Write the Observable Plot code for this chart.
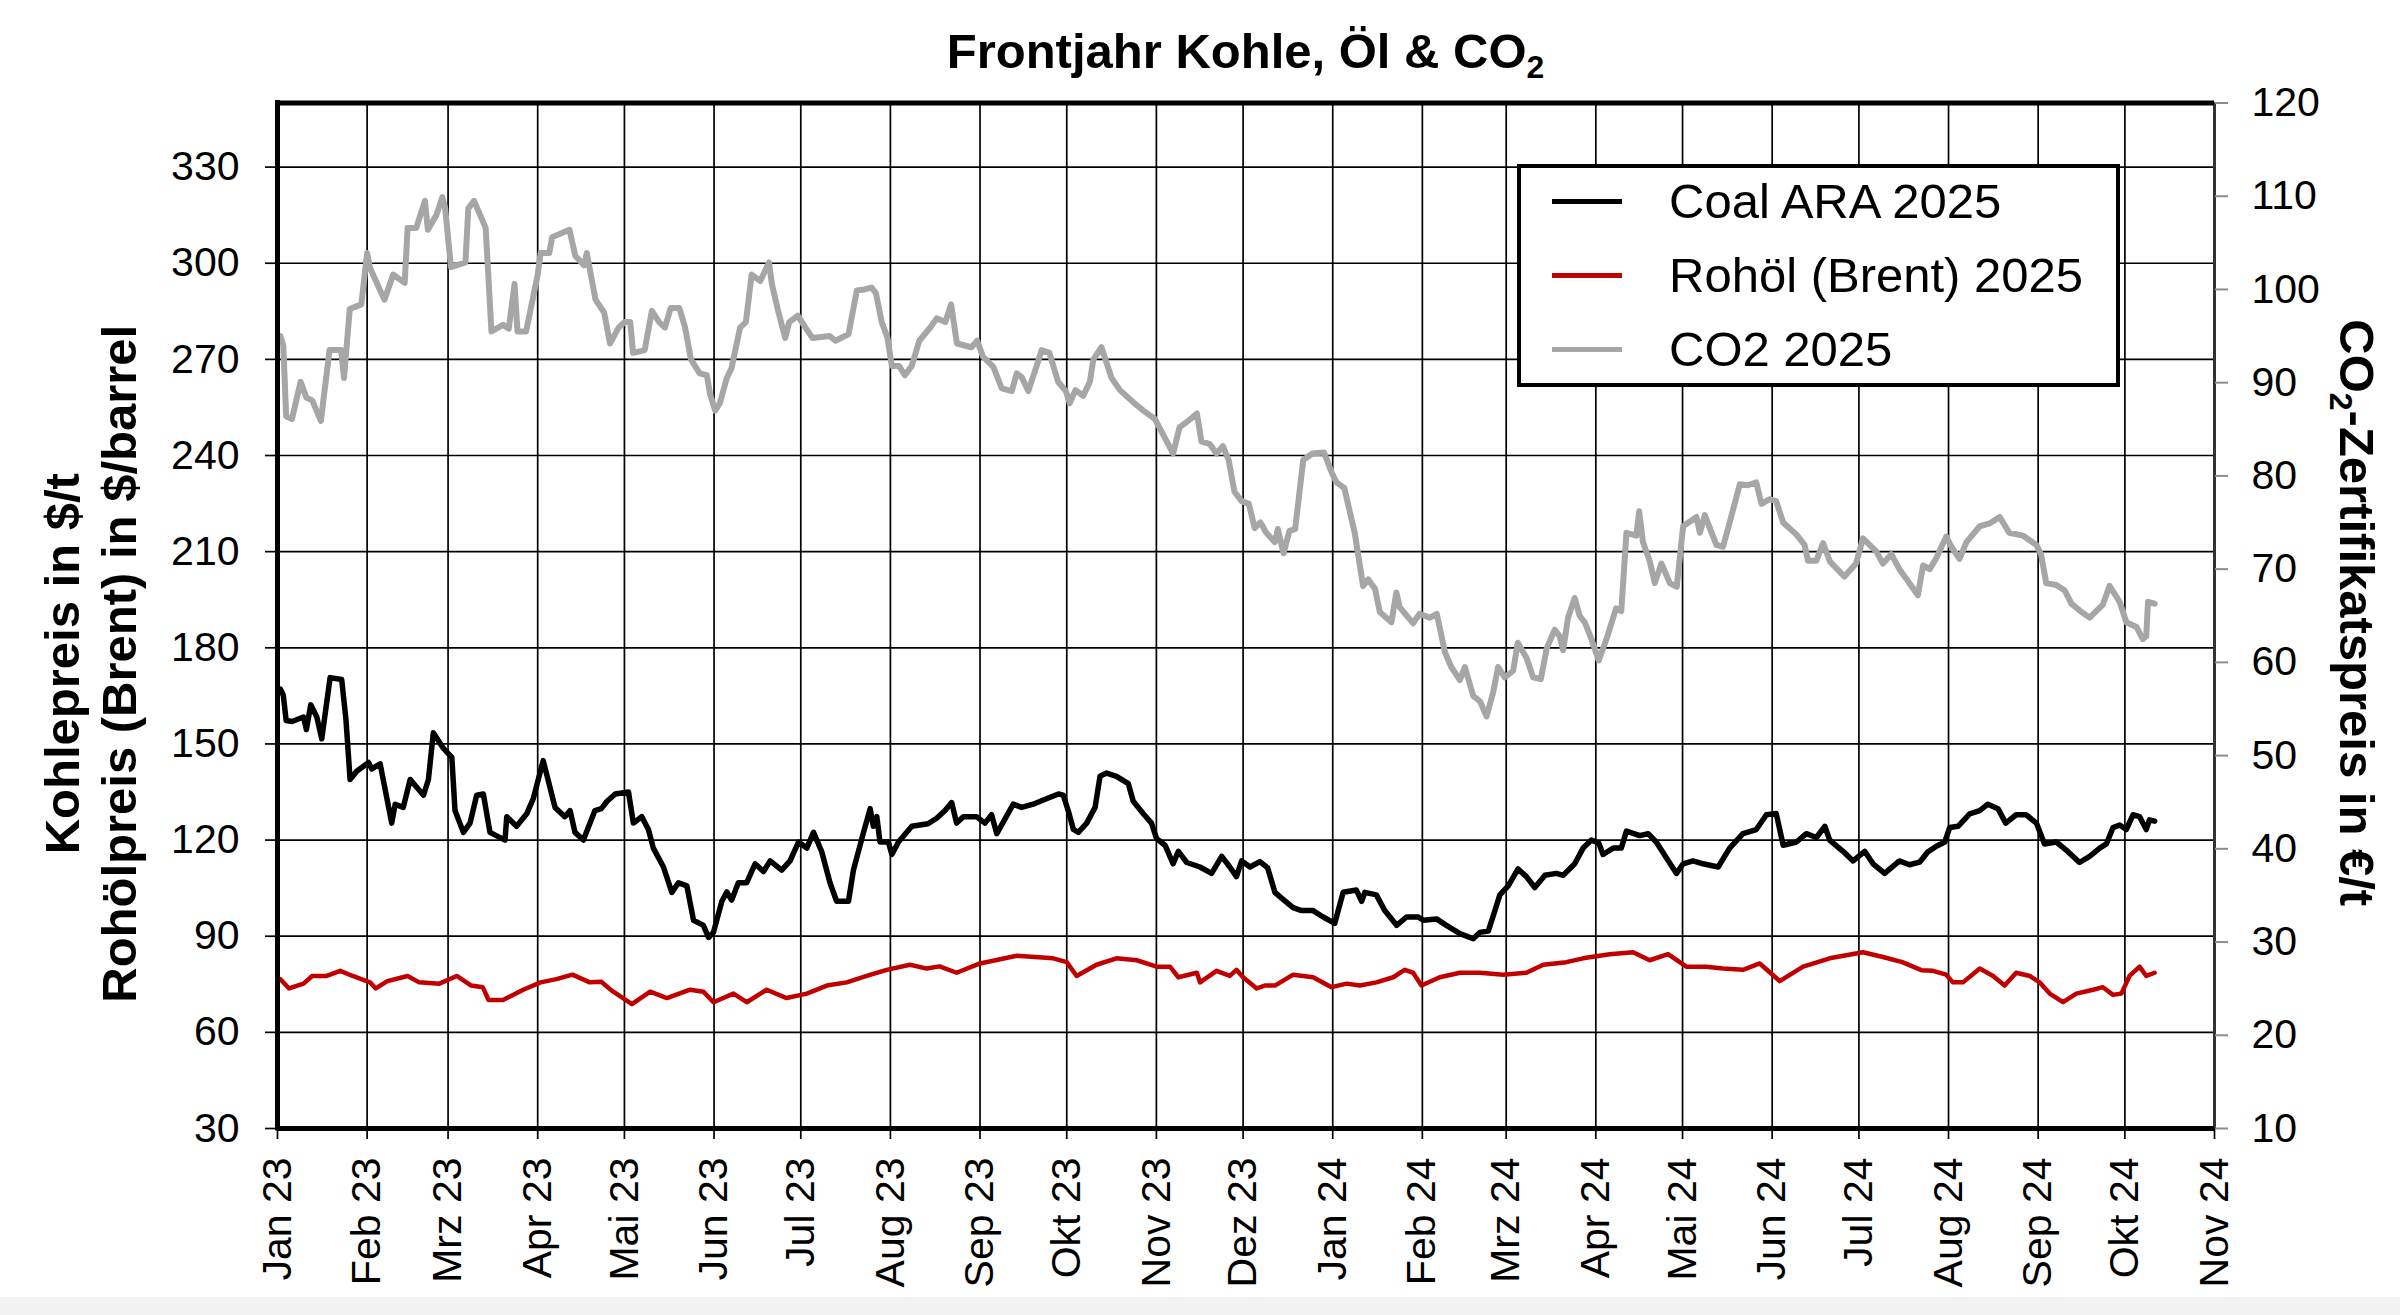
<!DOCTYPE html>
<html>
<head>
<meta charset="utf-8">
<script src="https://cdn.jsdelivr.net/npm/d3@7"></script>
<script src="https://cdn.jsdelivr.net/npm/@observablehq/plot@0.6"></script>
<style>
  html, body { margin: 0; padding: 0; background: #fff; }
  #page { position: relative; width: 2400px; height: 1315px; overflow: hidden; font-family: "Liberation Sans", Arial, sans-serif; }
  #title { position: absolute; left: 277px; width: 1937px; top: 26.5px; text-align: center; font-size: 49px; line-height: 49px; font-weight: bold; color: #000; white-space: nowrap; }
  #title sub { font-size: 0.65em; vertical-align: -10px; line-height: 0; }
  #chart { position: absolute; left: 0; top: 90px; }
  #legend { position: absolute; left: 1517px; top: 164px; width: 603px; height: 223px; box-sizing: border-box; border: 4px solid #000; background: #fff; }
  .row-swatch { position: absolute; left: 31px; width: 70px; height: 5px; }
  .row-text { position: absolute; left: 148px; font-size: 49px; line-height: 49px; color: #000; white-space: nowrap; }
  #footer { position: absolute; left: 0; top: 1297px; width: 2400px; height: 18px; background: #f2f2f2; }
</style>
</head>
<body>
<div id="page">
  <div id="title">Frontjahr Kohle, Öl &amp; CO<sub>2</sub></div>
  <div id="chart"></div>
  <div id="legend"></div>
  <div id="footer"></div>
</div>
<script>
// ---- data (day = days since 2023-01-01) ----
const monthNames = ["Jan","Feb","Mrz","Apr","Mai","Jun","Jul","Aug","Sep","Okt","Nov","Dez"];
const leftTicks = [30,60,90,120,150,180,210,240,270,300,330];
const co2Ticks = [10,20,30,40,50,60,70,80,90,100,110,120];
const leftDomain = [30, 350];
const co2Domain = [10, 120];
const seriesNames = ["Coal ARA 2025", "Rohöl (Brent) 2025", "CO2 2025"];
const seriesColors = ["#000000", "#C00000", "#A6A6A6"];

// Coal ARA 2025, $/t
const coal = [[1,167.1],[2,165.2],[3,157.3],[5,157],[9,158.4],[10,154.5],[11.5,162.2],[13.6,158.4],[15.3,151.6],[18.2,170.7],[22.2,170.1],[23.7,157.4],[25.1,138.9],[27.4,141.5],[31.5,144.2],[32.6,142.2],[35.5,143.8],[39.5,125.3],[40.7,131.2],[43.5,130.2],[45.9,138.9],[50.5,134],[52.2,138.9],[53.9,153.5],[57.4,148.6],[60.3,145.8],[61.4,129.2],[64.3,122.4],[66.6,125.3],[68.9,134],[71.2,134.4],[73.5,122.4],[78.7,120],[79.3,127.3],[82.7,124.3],[86.2,128.2],[88.5,133],[91.9,144.8],[96,130.2],[99.4,127.3],[101.2,129.2],[102.9,122.4],[105.8,120],[109.8,129.2],[112,129.8],[114,132.1],[116.8,134.4],[121.4,135],[123.1,125.3],[126,127.3],[128.3,123.3],[130,117.5],[133.5,111.6],[136.4,103.7],[138.7,106.7],[141.6,105.7],[143.9,95],[147.3,93.4],[149.1,89.6],[150.8,91.2],[153.7,100.9],[155.4,103.8],[157.1,101.3],[159.4,106.7],[162.3,106.7],[165.2,112.6],[168.1,110.2],[170.4,113.5],[174.4,110.6],[177.3,113.5],[180.2,119.4],[183.1,117.5],[185.4,122.4],[188.2,116.5],[191.1,106.7],[193.4,100.9],[197.5,100.9],[199.2,110.6],[202.7,122.4],[205,129.8],[206.1,124.3],[207.3,127.3],[208.4,119.4],[211.3,119.4],[212.5,115.5],[214.8,119.4],[219.4,124.3],[225,125.1],[228,126.8],[230.9,129.2],[233.2,131.7],[234.9,125.3],[237.2,127.3],[241.8,127.3],[244.7,125.3],[247,127.9],[248.8,122],[254.5,131.2],[257.4,130.2],[261.4,131.2],[264.9,132.5],[270.1,134.4],[271.8,134],[273.5,129.2],[275.3,123.3],[277,122.4],[279.9,125.3],[282.8,130.2],[284.5,139.9],[286.8,140.9],[290.2,139.9],[294.3,137.6],[296,132.1],[299.5,128.2],[302.3,125.3],[304.1,120.4],[307,118.4],[309.8,112.6],[311.6,116.5],[314.5,113],[319.1,111.6],[323.1,109.6],[326.6,114.9],[329.4,111.6],[331.7,108.6],[333.5,113.5],[336.4,111.6],[339.8,113.3],[342.5,111.3],[345,103.7],[347.3,101.9],[351.3,98.9],[354.2,98],[358.2,98],[361.7,96],[365.7,94],[368.6,103.7],[373.2,104.4],[375,100.9],[376.1,103.7],[380.1,102.9],[383,98],[387.1,93.4],[390.5,96],[394.6,96],[396.3,95],[400.9,95.4],[404.3,93.4],[409,90.8],[413.6,89.2],[415.9,91.2],[418.8,91.6],[421.1,98],[422.8,102.9],[425.7,105.7],[429.1,111],[432,108.6],[434.9,105.2],[438.4,109],[442.4,109.6],[444.7,109],[448.7,112.6],[451.6,117.5],[454.5,120],[457,119.1],[458.5,115.5],[462,117.5],[464.8,117.5],[466.6,122.8],[471.2,121.4],[474.1,122],[476.9,119.4],[480.4,114.5],[483.9,109.6],[486.2,112.6],[489.6,113.5],[493.1,112.6],[498.3,111.6],[502.3,117.5],[506.9,122],[511.5,123.3],[515,127.9],[518.4,128.3],[520.8,118.4],[525.4,119.4],[528.8,122],[532.3,120.8],[535.2,124.3],[536.9,120],[541.5,116.5],[545,113.5],[549,116.5],[551.9,112.6],[555.9,109.6],[561,113.5],[564.5,112.3],[568,113.1],[570.8,116.3],[573.8,118.1],[576.7,119.4],[578.4,123.9],[581.3,124.3],[585.3,128.2],[588.8,129.2],[591.6,131.2],[595.1,129.8],[597.8,125.3],[601.4,127.9],[604.9,127.9],[608.4,125.3],[611.2,118.8],[615.3,119.4],[618.7,116.9],[623.3,113],[626.8,114.9],[630.3,117.5],[632.6,118.8],[634.9,123.9],[637.2,124.7],[639.5,123.3],[641.8,127.9],[644.1,127.3],[646.4,123.3],[647.5,126.3],[649.3,125.9]];

// Rohöl (Brent) 2025, $/barrel
const oil = [[1,76.6],[4,73.7],[9,75.2],[12,77.6],[17,77.6],[21.7,79.2],[26,77.6],[32,75.6],[34,73.7],[38,76],[45,77.6],[49,75.6],[56,75.2],[62,77.6],[67,74.6],[71,74.1],[73,70.1],[78,70.1],[85,73.3],[91,75.6],[96.5,76.6],[102,78],[108,75.6],[112,75.8],[115.5,73.1],[122.6,68.8],[128.9,72.7],[134.7,70.7],[142.7,73.3],[147.3,72.7],[150.8,69.4],[157.7,72.1],[162.3,69.4],[169.2,73.3],[176.1,70.7],[183.1,72.1],[190,74.6],[196.9,75.6],[203.8,77.6],[210.7,79.5],[218.8,81.1],[224.6,79.9],[229,80.6],[234.9,78.6],[243,81.5],[255.7,83.9],[268.3,83.1],[273,81.9],[276.4,77.6],[283.3,81.1],[290.2,83.1],[297.2,82.5],[304.1,80.5],[308.7,80.5],[311.6,77.2],[318,78.6],[319.1,75.6],[324.8,79.2],[329.4,77.6],[331.7,79.5],[334,77.2],[338.7,73.7],[341.5,74.6],[345,74.6],[351.3,78],[358.2,77.2],[364.6,74.1],[369.8,75.2],[374.4,74.6],[380.1,75.6],[385.9,77.2],[389.9,79.5],[392.8,78.6],[395.7,74.6],[402,77.2],[409,78.6],[415.9,78.6],[424,78],[432,78.6],[437.8,81.1],[445.8,81.9],[451.6,83.1],[455,83.6],[460.8,84.4],[468.9,85],[474.6,82.5],[481,84.4],[487.3,80.5],[494.2,80.5],[500,79.9],[506.9,79.5],[512.7,81.5],[519.6,76],[527.7,80.5],[536.9,83.1],[548.4,85],[555.3,83.5],[562,81.9],[568.6,79.4],[572.6,79.2],[577.2,78],[579.5,75.6],[583,75.6],[588.8,79.9],[593.4,77.6],[597.4,74.6],[601.4,78.6],[606.1,77.6],[609.5,75.6],[613,72.1],[617.6,69.4],[622.2,72.1],[628,73.3],[631.4,74.1],[634.9,71.7],[637.8,72.1],[640.6,77.6],[644.1,80.5],[646.4,77.6],[649.3,78.6]];

// CO2 2025, €/t (right axis)
const co2 = [[1,95],[2,94],[3,86.4],[5,86.1],[8,90.1],[10,88.4],[12,88.1],[15,85.9],[18,93.5],[22,93.5],[23,90.5],[25,97.9],[29,98.4],[31,103.9],[32,102.3],[37,98.9],[40,101.6],[44,100.7],[45,106.6],[48,106.6],[51,109.5],[52,106.4],[55,108],[57,109.9],[58,108.7],[60,102.4],[65,102.9],[66,108.7],[68,109.5],[72,106.6],[74,95.5],[78,96.2],[80,95.8],[82,100.6],[83,95.5],[86,95.5],[90,101.6],[91,103.9],[94,103.9],[95,105.6],[101,106.4],[103,103.6],[106,102.6],[107,103.9],[110,98.9],[113,97.5],[115,94.2],[118,95.9],[120,96.5],[122,96.5],[123,93.2],[127,93.5],[129.5,97.7],[132,96.5],[134,95.9],[136,98],[139,98],[141,95.9],[143,92.5],[146,91],[148.5,90.8],[149.6,88.8],[151.4,87],[153,87.8],[155.4,90.5],[157,91.5],[160,95.9],[162,96.5],[164,101.6],[167,100.9],[170,102.9],[171,100.6],[173,97.9],[175.6,94.8],[177,96.5],[180,97.2],[182,96.2],[185,94.8],[191,95],[193,94.5],[197.5,95.2],[200.4,99.9],[203,100],[205.5,100.2],[207,99.6],[209,96.5],[211,94.8],[212.5,91.8],[215,91.8],[217,90.8],[219.4,91.8],[222,94.5],[226,96],[228,96.9],[231,96.5],[233,98.4],[235,94.2],[240,93.8],[242,94.5],[244,92.8],[247.6,91.7],[250.5,89.4],[254,89.1],[255.7,91],[257.4,90.6],[259.7,89.1],[262.6,91.8],[264.3,93.5],[267,93.2],[270,90.1],[272.7,89.1],[274,87.8],[276,89.2],[278.7,88.6],[281,90.1],[282.2,92.5],[285,93.8],[288.5,90.5],[291.4,89.2],[296,87.9],[299.5,87],[303.5,86.1],[306.4,84.4],[309.8,82.4],[312,85.2],[315,85.9],[318,86.7],[319.6,83.7],[322.5,83.4],[324.8,82.4],[327,83.2],[329,81.7],[331,78.3],[333.5,77.3],[336,77],[338,74.4],[340,75],[342,73.9],[345,72.9],[346,74.3],[348,71.7],[350,74.1],[352,74.3],[354.8,81.7],[358,82.4],[362,82.5],[364.6,80.4],[366.3,79.3],[369,78.7],[372.6,73.9],[375.5,68.2],[377.3,68.9],[379.6,67.9],[381.3,65.4],[385.3,64.3],[387,67.5],[388.2,65.9],[392.8,64.2],[395,65.2],[398.6,64.8],[401,65.2],[403.8,61.1],[406,59.5],[409,58.1],[410.7,59.5],[413.6,56.4],[416,55.8],[418.2,54.2],[420.5,56.8],[422.2,59.5],[424.5,58.4],[427.4,59.1],[429,62.1],[432,60.5],[434.3,58.4],[437,58.2],[439,61.5],[441.8,63.5],[443.5,62.8],[444.7,61.3],[446.4,64.8],[448.7,66.9],[450.4,65],[452.2,64.3],[454.5,62.5],[457,60.2],[459.7,62.5],[463,65.8],[464.8,65.5],[466.6,73.9],[470,73.6],[471,76.2],[472.3,72.9],[474.6,70.9],[476.4,68.5],[478.7,70.6],[481.6,68.5],[484,68.1],[486.2,74.6],[490.8,75.6],[492,73.9],[493.7,75.8],[497.7,72.6],[500,72.4],[502.3,75],[505.8,79.1],[508.6,79],[511.5,79.3],[513.3,77],[516,77.5],[518.4,77.3],[520.8,75],[525.4,73.7],[528.2,72.6],[529.4,70.9],[532.3,70.9],[534.6,72.8],[537,70.8],[542,69.2],[546,70.6],[548.4,73.3],[553,71.9],[555.3,70.6],[558.2,71.6],[561,70],[564,68.7],[567.4,67.2],[569.2,70.4],[571.5,70],[573.8,71.2],[577.2,73.5],[579,72.4],[581.8,71.1],[584.2,72.9],[588.8,74.6],[592.2,74.9],[595.7,75.6],[599,73.9],[603.7,73.6],[608.4,72.6],[610,71.6],[611.8,68.5],[615.3,68.3],[618.2,67.7],[620.5,66.3],[624,65.4],[626.8,64.8],[631.4,66.2],[633.7,68.2],[637.2,66.5],[639.5,64.3],[643,63.8],[645.2,62.5],[646.4,62.8],[647,66.5],[649.3,66.3]];

// ---- build tables ----
const START = Date.UTC(2023, 0, 1);
const toDate = d => new Date(START + d * 864e5);
const toRows = arr => arr.map(([d, v]) => ({date: toDate(d), value: v}));
const coalRows = toRows(coal), oilRows = toRows(oil), co2Rows = toRows(co2);

const xDomain = [new Date(Date.UTC(2023, 0, 1)), new Date(Date.UTC(2024, 10, 1))];
const monthTicks = d3.utcMonth.range(xDomain[0], new Date(Date.UTC(2024, 10, 2)));
const k = (leftDomain[1] - leftDomain[0]) / (co2Domain[1] - co2Domain[0]);
const toLeft = v => leftDomain[0] + (v - co2Domain[0]) * k;
const fromLeft = y => co2Domain[0] + (y - leftDomain[0]) / k;

const font = "'Liberation Sans', Arial, Helvetica, sans-serif";

const chart = Plot.plot({
  width: 2400,
  height: 1207,
  marginTop: 12.5,
  marginBottom: 169,
  marginLeft: 277,
  marginRight: 186,
  style: {fontFamily: font, color: "#000", background: "#fff", overflow: "visible"},
  x: {type: "utc", domain: xDomain},
  y: {domain: leftDomain},
  marks: [
    Plot.gridX(monthTicks, {stroke: "#000", strokeOpacity: 1, strokeWidth: 1.7}),
    Plot.gridY(leftTicks, {stroke: "#000", strokeOpacity: 1, strokeWidth: 1.7}),
    Plot.lineY(oilRows, {x: "date", y: "value", stroke: seriesColors[1], strokeWidth: 4.5, strokeLinejoin: "round"}),
    Plot.lineY(co2Rows, {x: "date", y: d => toLeft(d.value), stroke: seriesColors[2], strokeWidth: 6, strokeLinejoin: "round"}),
    Plot.lineY(coalRows, {x: "date", y: "value", stroke: seriesColors[0], strokeWidth: 5.5, strokeLinejoin: "round"}),
    Plot.ruleX([xDomain[1]], {stroke: "#333", strokeWidth: 3}),
    Plot.ruleY([leftDomain[0]], {stroke: "#000", strokeWidth: 5}),
    Plot.ruleY([leftDomain[1]], {stroke: "#000", strokeWidth: 5}),
    Plot.ruleX([xDomain[0]], {stroke: "#000", strokeWidth: 5, strokeLinecap: "square"}),
    Plot.axisX({
      ticks: monthTicks,
      tickFormat: d => monthNames[d.getUTCMonth()] + " " + String(d.getUTCFullYear()).slice(2),
      tickRotate: -90, fontSize: 41, tickSize: 11, tickPadding: 18, strokeWidth: 1.7, label: null
    }),
    Plot.axisY({ticks: leftTicks, anchor: "left", fontSize: 41, tickSize: 12, tickPadding: 26, strokeWidth: 1.7, label: null}),
    Plot.axisY({
      ticks: co2Ticks.map(toLeft), anchor: "right",
      tickFormat: v => String(Math.round(fromLeft(v))),
      fontSize: 41, tickSize: 13, tickPadding: 24, stroke: "#8c8c8c", fill: "#000", strokeWidth: 2, label: null
    }),
    Plot.text(["Kohlepreis in $/t\nRohölpreis (Brent) in $/barrel"], {
      text: d => d, frameAnchor: "left", textAnchor: "middle", lineAnchor: "middle",
      rotate: -90, dx: -188.5, dy: 48,
      fontSize: 49, fontWeight: "bold", lineHeight: 1.16, fill: "#000"
    }),
    Plot.text(["CO2-Zertifikatspreis in €/t"], {
      text: d => d, frameAnchor: "right", textAnchor: "middle", lineAnchor: "middle",
      rotate: 90, dx: 141, dy: -3,
      fontSize: 49, fontWeight: "bold", fill: "#000"
    })
  ]
});

// subscript 2 in the right axis title
d3.select(chart).selectAll("text").each(function() {
  if (this.textContent === "CO2-Zertifikatspreis in €/t") {
    const t = d3.select(this);
    t.text(null);
    t.append("tspan").text("CO");
    t.append("tspan").attr("font-size", "32px").attr("dy", "10").text("2");
    t.append("tspan").attr("dy", "-10").text("-Zertifikatspreis in €/t");
  }
});

document.getElementById("chart").appendChild(chart);

// legend (HTML overlay inside the plot frame)
const legend = document.getElementById("legend");
const rowCenters = [33, 107, 181];
seriesNames.forEach((name, i) => {
  const sw = document.createElement("div");
  sw.className = "row-swatch";
  sw.style.top = (rowCenters[i] - 2.5) + "px";
  sw.style.background = seriesColors[i];
  legend.appendChild(sw);
  const tx = document.createElement("div");
  tx.className = "row-text";
  tx.style.top = (rowCenters[i] - 24) + "px";
  tx.textContent = name;
  legend.appendChild(tx);
});
</script>
</body>
</html>
